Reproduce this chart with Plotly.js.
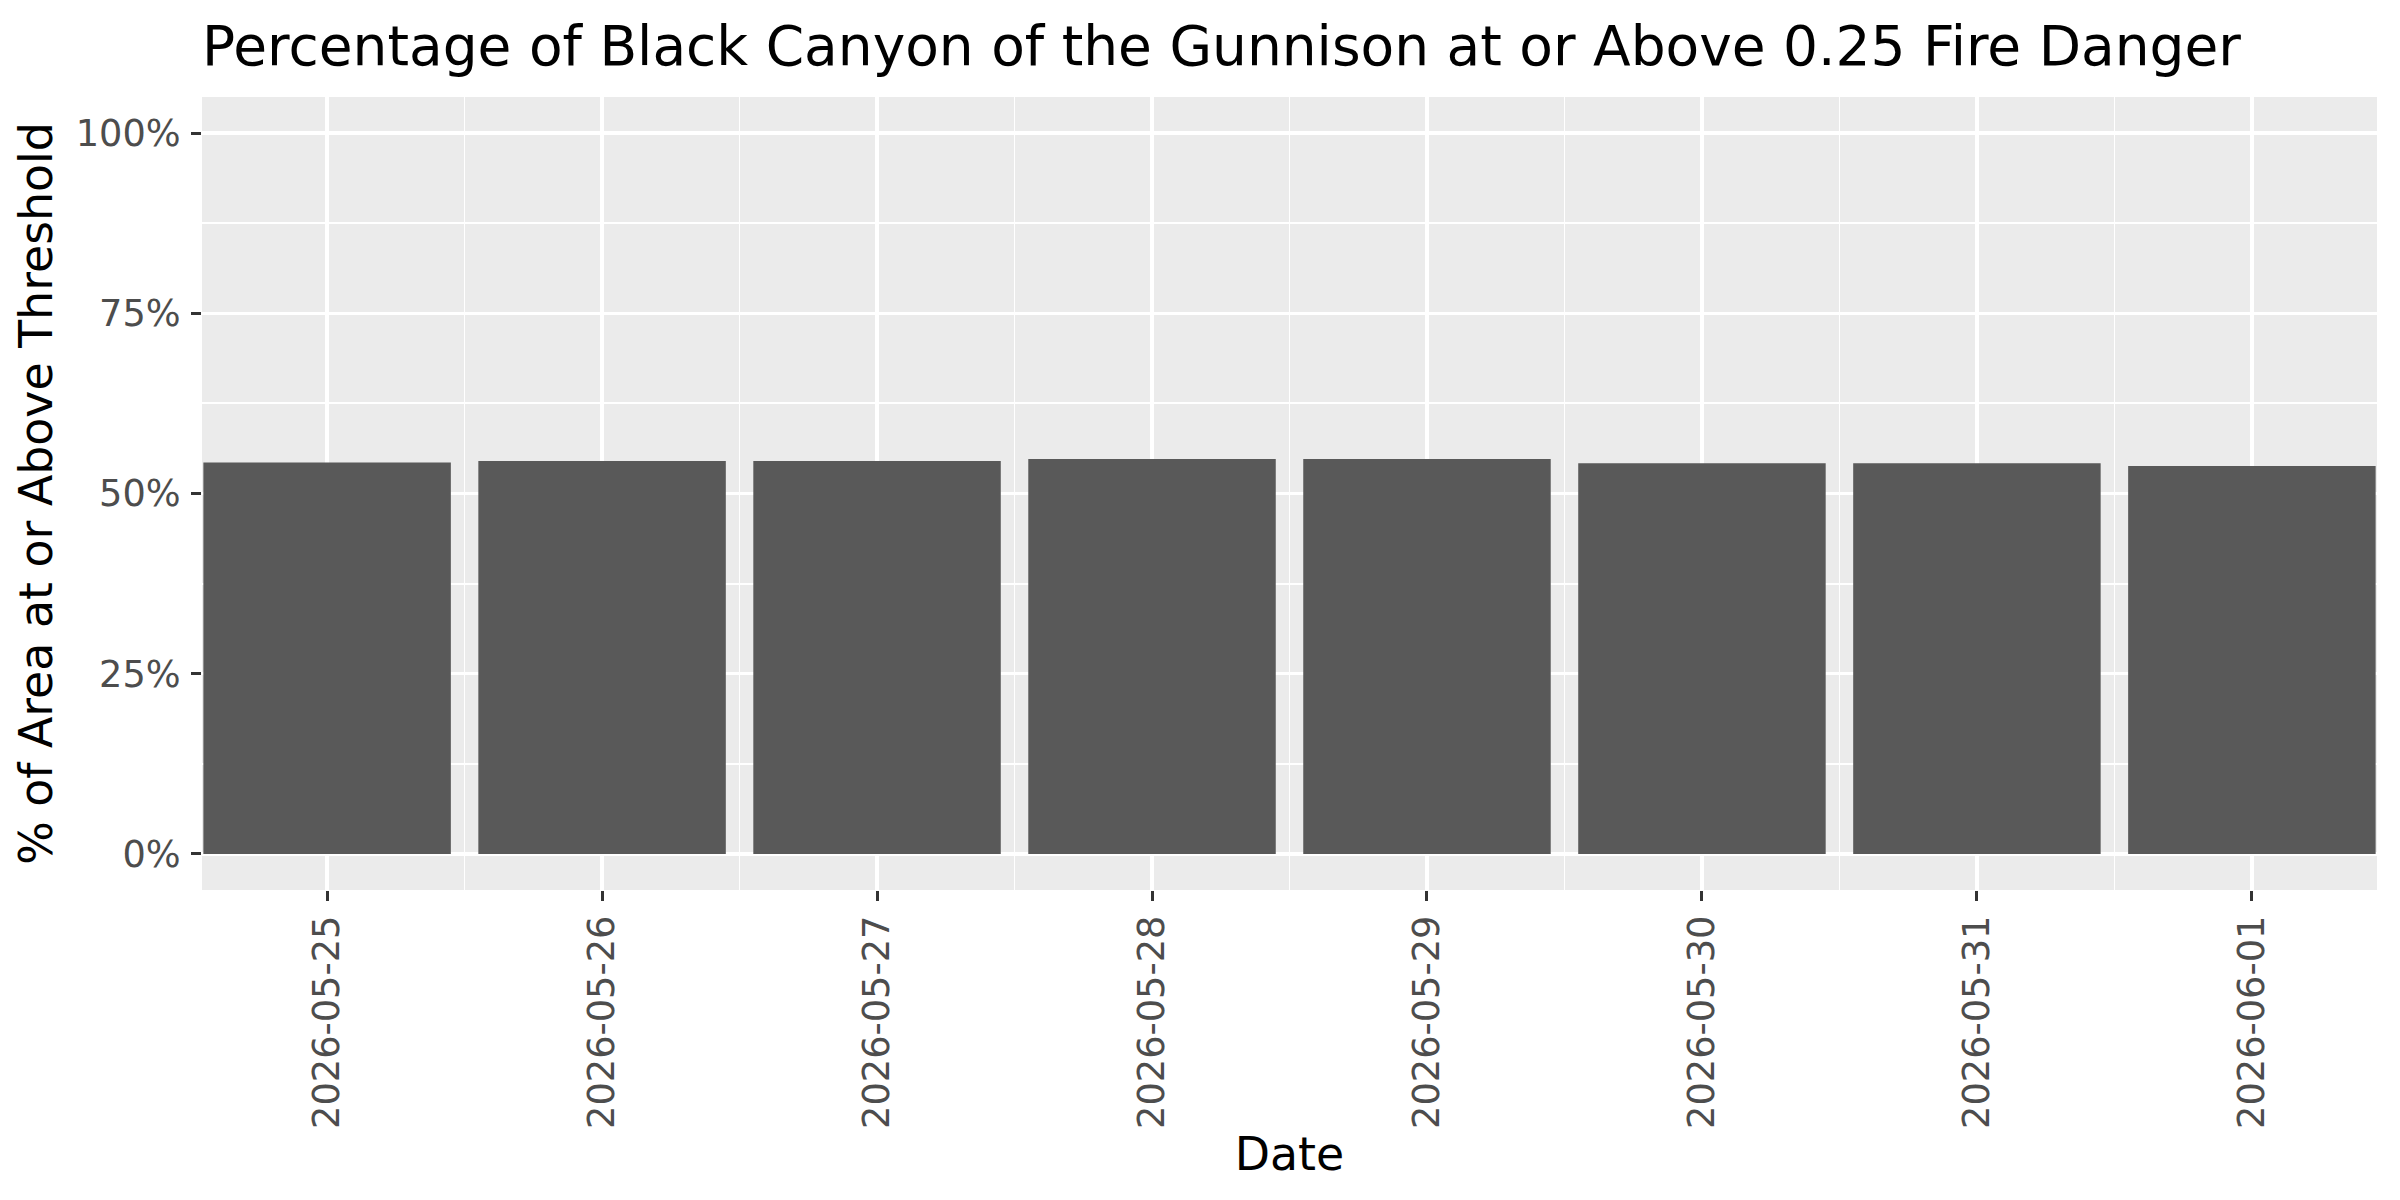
<!DOCTYPE html>
<html>
<head>
<meta charset="utf-8">
<script src="https://cdn.plot.ly/plotly-3.0.1.min.js"></script>
<style>
  html, body { margin: 0; padding: 0; background: #fff; }
  #graphDiv { width: 2400px; height: 1200px; }
</style>
</head>
<body>
<div id="graphDiv"></div>
<script>
// share of the park at or above 0.25 fire danger, per forecast day
var dates = ['2026-05-25', '2026-05-26', '2026-05-27', '2026-05-28',
             '2026-05-29', '2026-05-30', '2026-05-31', '2026-06-01'];
var pctAbove = [0.543, 0.545, 0.545, 0.548, 0.548, 0.542, 0.542, 0.538];
var yTicks = [0, 0.25, 0.5, 0.75, 1];

var DAY = 86400000;
var t0 = new Date(dates[0] + 'T00:00:00Z').getTime();
var t1 = new Date(dates[dates.length - 1] + 'T00:00:00Z').getTime();
function iso(ms) { return new Date(ms).toISOString().replace('T', ' ').replace('Z', ''); }

var trace1 = {
  type: 'bar',
  x: dates,
  y: pctAbove,
  width: 0.9 * DAY,
  marker: {color: '#595959', line: {width: 0}},
  hoverinfo: 'x+y'
};

var layout = {
  width: 2400,
  height: 1200,
  paper_bgcolor: '#ffffff',
  plot_bgcolor: '#ebebeb',
  showlegend: false,
  font: {family: 'DejaVu Sans', color: '#000000'},
  margin: {l: 202, r: 23, t: 97, b: 310},
  title: {
    text: 'Percentage of Black Canyon of the Gunnison at or Above 0.25 Fire Danger',
    font: {size: 55, color: '#000000'},
    x: 0, xref: 'paper', xanchor: 'left',
    y: 0.962, yref: 'container', yanchor: 'middle'
  },
  xaxis: {
    type: 'date',
    range: [iso(t0 - 0.455 * DAY), iso(t1 + 0.455 * DAY)],
    tick0: dates[0],
    dtick: DAY,
    tickformat: '%Y-%m-%d',
    tickangle: -90,
    ticks: 'outside',
    ticklen: 10,
    tickwidth: 3,
    tickcolor: '#333333',
    tickfont: {size: 36.7, color: '#4d4d4d'},
    showgrid: true,
    gridcolor: '#ffffff',
    gridwidth: 3.5,
    minor: {dtick: DAY / 2, showgrid: true, gridcolor: '#ffffff', gridwidth: 1.8, ticks: ''},
    zeroline: false,
    showline: false,
    title: {text: 'Date', font: {size: 45.8, color: '#000000'}, standoff: 10}
  },
  yaxis: {
    range: [-0.05, 1.05],
    tickvals: yTicks,
    tickformat: '.0%',
    ticks: 'outside',
    ticklen: 10,
    tickwidth: 3,
    tickcolor: '#333333',
    tickfont: {size: 36.7, color: '#4d4d4d'},
    ticklabelstandoff: 3,
    showgrid: true,
    gridcolor: '#ffffff',
    gridwidth: 3.5,
    minor: {tick0: 0.125, dtick: 0.25, showgrid: true, gridcolor: '#ffffff', gridwidth: 1.8, ticks: ''},
    zeroline: false,
    showline: false,
    title: {text: '% of Area at or Above Threshold', font: {size: 45.8, color: '#000000'}, standoff: 8}
  }
};

Plotly.newPlot('graphDiv', [trace1], layout, {displayModeBar: false, staticPlot: true});
</script>
</body>
</html>
